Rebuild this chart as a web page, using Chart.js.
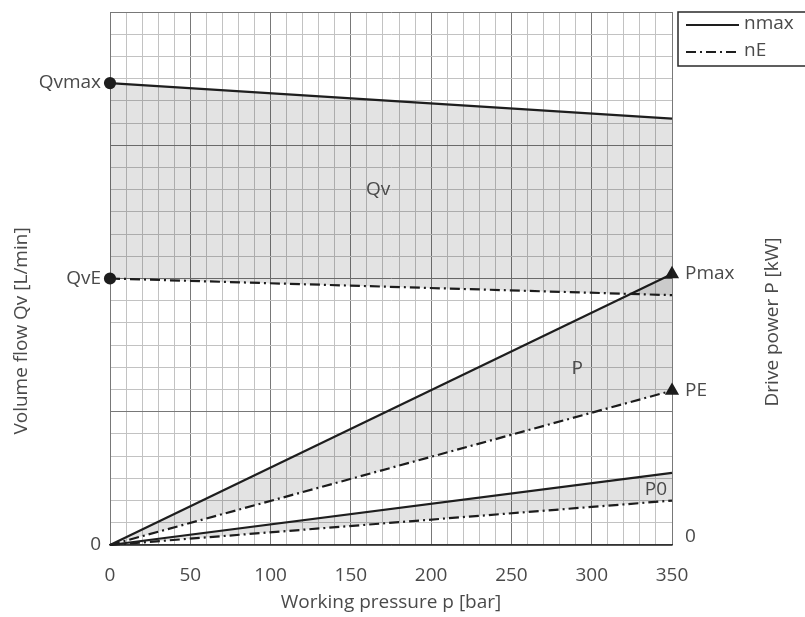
<!DOCTYPE html>
<html lang="en">
<head>
  <meta charset="UTF-8">
  <title>Volume flow and drive power vs working pressure</title>
  <script src="https://cdn.jsdelivr.net/npm/chart.js"></script>
  <style>
    * { margin: 0; padding: 0; box-sizing: border-box; }
    body { background: #fff; width: 805px; height: 617px; overflow: hidden; }
    canvas { display: block; }
  </style>
</head>
<body>
  <canvas id="chart" width="805" height="617"></canvas>

  <script>
    // values (y in grid units, 24 minor rows tall)
    const pressure = [0, 350];
    const qvMax = [20.8, 19.2];
    const qvE = [12.0, 11.25];
    const pMax = [0, 12.2];
    const pE = [0, 6.95];
    const p0Max = [0, 3.25];
    const p0E = [0, 2.0];

    const xLabelStep = 50;
    const leftLabels = [
      { value: 0, label: '0' },
      { value: qvE[0], label: 'QvE' },
      { value: qvMax[0], label: 'Qvmax' }
    ];
    const rightLabels = [
      { value: 0.4, label: '0' },
      { value: pE[1], label: 'PE' },
      { value: pMax[1], label: 'Pmax' }
    ];
    const areaLabels = [
      { x: 167, y: 16.0, text: 'Qv' },
      { x: 291, y: 7.95, text: 'P' },
      { x: 340, y: 2.5, text: 'P0' }
    ];

    const FONT = "'Open Sans', sans-serif";
    const TEXT = '#4a4a4a';
    const LINE = '#1e1e1e';
    const FILL = 'rgba(0,0,0,0.11)';
    const DASHDOT = [10, 4, 2, 4];

    const pts = ys => pressure.map((x, i) => ({ x: x, y: ys[i] }));

    function lineSet(label, ys, dashed, extra) {
      return Object.assign({
        label: label,
        data: pts(ys),
        borderColor: LINE,
        backgroundColor: FILL,
        borderWidth: 2.2,
        borderDash: dashed ? DASHDOT : [],
        pointRadius: 0,
        pointBackgroundColor: LINE,
        pointBorderColor: LINE,
        fill: false,
        clip: false,
        yAxisID: 'y'
      }, extra || {});
    }

    const datasets = [
      lineSet('Qv nmax', qvMax, false, { fill: '+1', pointRadius: [5, 0] }),
      lineSet('Qv nE', qvE, true, { pointRadius: [5, 0] }),
      lineSet('P nmax', pMax, false, { fill: '+1', pointStyle: 'triangle', pointRadius: [0, 6] }),
      lineSet('P nE', pE, true, { pointStyle: 'triangle', pointRadius: [0, 6] }),
      lineSet('P0 nmax', p0Max, false, { fill: '+1' }),
      lineSet('P0 nE', p0E, true)
    ];

    // side axes: fixed width, no extra top/bottom padding from their labels
    const fixSide = w => axis => {
      axis.width = w;
      axis.paddingTop = 0;
      axis.paddingBottom = 0;
    };

    // legend box, axis titles and area labels
    const extras = {
      id: 'extras',
      afterDraw(chart) {
        const c = chart.ctx;
        const xs = chart.scales.x, ys = chart.scales.y;
        c.save();
        c.fillStyle = TEXT;
        c.font = '19px ' + FONT;
        c.textBaseline = 'middle';
        c.textAlign = 'center';
        areaLabels.forEach(l => c.fillText(l.text, xs.getPixelForValue(l.x), ys.getPixelForValue(l.y)));

        // vertical titles
        c.save();
        c.translate(22, 331);
        c.rotate(-Math.PI / 2);
        c.fillText('Volume flow Qv [L/min]', 0, 0);
        c.restore();
        c.save();
        c.translate(773, 322);
        c.rotate(-Math.PI / 2);
        c.fillText('Drive power P [kW]', 0, 0);
        c.restore();

        // legend
        c.strokeStyle = '#2a2a2a';
        c.lineWidth = 1.5;
        c.strokeRect(678, 12, 135, 54);
        c.lineWidth = 2;
        c.strokeStyle = LINE;
        c.beginPath(); c.moveTo(686, 25); c.lineTo(739, 25); c.stroke();
        c.setLineDash(DASHDOT);
        c.beginPath(); c.moveTo(686, 52); c.lineTo(739, 52); c.stroke();
        c.setLineDash([]);
        c.textAlign = 'left';
        c.fillText('nmax', 744, 24);
        c.fillText('nE', 744, 51);
        c.restore();
      }
    };

    new Chart(document.getElementById('chart'), {
      type: 'line',
      data: { datasets: datasets },
      options: {
        responsive: false,
        devicePixelRatio: 1,
        animation: false,
        layout: { padding: { top: 12 } },
        plugins: { legend: { display: false }, tooltip: { enabled: false } },
        scales: {
          x: {
            type: 'linear',
            min: 0,
            max: 350,
            ticks: {
              stepSize: 10,
              autoSkip: false,
              maxRotation: 0,
              padding: 19,
              color: TEXT,
              font: { family: FONT, size: 19 },
              callback: v => (v % xLabelStep === 0 ? String(v) : '')
            },
            grid: {
              drawTicks: false,
              color: ctx => (ctx.tick.value % xLabelStep === 0 ? '#787878' : '#c2c2c2'),
              lineWidth: 1
            },
            border: { color: '#333', width: 1.5 },
            title: {
              display: true,
              text: 'Working pressure p [bar]',
              color: TEXT,
              font: { family: FONT, size: 19 },
              padding: { top: 0, bottom: 3 }
            },
            afterFit: axis => { axis.height = 72; }
          },
          y: {
            min: 0,
            max: 24,
            position: 'left',
            ticks: { stepSize: 1, display: false },
            grid: {
              drawTicks: false,
              color: ctx => (ctx.tick.value % 6 === 0 ? '#787878' : '#c2c2c2'),
              lineWidth: 1
            },
            border: { color: '#787878' },
            afterFit: fixSide(0)
          },
          yL: {
            min: 0,
            max: 24,
            position: 'left',
            grid: { display: false, drawTicks: false },
            border: { display: false },
            afterBuildTicks: axis => { axis.ticks = leftLabels.map(t => ({ value: t.value })); },
            ticks: {
              padding: 9,
              color: TEXT,
              font: { family: FONT, size: 19 },
              callback: v => (leftLabels.find(t => t.value === v) || {}).label
            },
            afterFit: fixSide(110)
          },
          yR: {
            min: 0,
            max: 24,
            position: 'right',
            grid: { display: false, drawTicks: false },
            border: { display: false },
            afterBuildTicks: axis => { axis.ticks = rightLabels.map(t => ({ value: t.value })); },
            ticks: {
              padding: 13,
              color: TEXT,
              font: { family: FONT, size: 19 },
              callback: v => (rightLabels.find(t => t.value === v) || {}).label
            },
            afterFit: fixSide(133)
          }
        }
      },
      plugins: [extras]
    });
  </script>
</body>
</html>
